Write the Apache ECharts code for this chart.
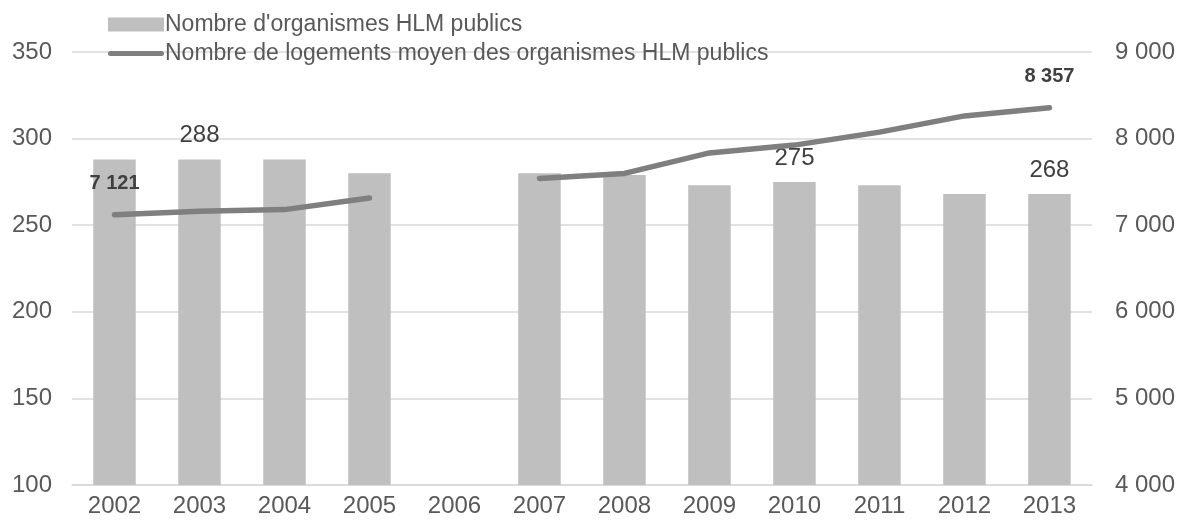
<!DOCTYPE html>
<html><head><meta charset="utf-8">
<script src="https://cdn.jsdelivr.net/npm/echarts@6/dist/echarts.min.js"></script>
<style>html,body{margin:0;padding:0;background:#fff}#c{width:1178px;height:525px}</style>
</head><body><div id="c"></div>
<script>
const categories = ['2002','2003','2004','2005','2006','2007','2008','2009','2010','2011','2012','2013'];
const organismes = [288, 288, 288, 280, null, 280, 279, 273, 275, 273, 268, 268];
const logements = [7121, 7160, 7180, 7315, null, 7540, 7598, 7835, 7925, 8075, 8262, 8357];
const barLabelIdx = [1, 8, 11];
const lineLabelIdx = [0, 11];
const leftTicks = {min: 100, max: 350, interval: 50};
const rightTicks = {min: 4000, max: 9000, interval: 1000};

const fmt = v => String(v).replace(/\B(?=(\d{3})+(?!\d))/g, ' ');
const font = 'Liberation Sans, Arial, sans-serif';

const barData = organismes.map((v, i) => barLabelIdx.includes(i) ? {value: v, label: {show: true}} : v);
const lineData = logements.map((v, i) => lineLabelIdx.includes(i) ? {value: v, label: {show: true}} : v);

const chart = echarts.init(document.getElementById('c'));
chart.setOption({
  animation: false,
  textStyle: {fontFamily: font},
  legend: {
    orient: 'vertical', left: 103, top: 8, itemGap: 6,
    itemWidth: 56, itemHeight: 14,
    textStyle: {fontFamily: font, fontSize: 23, color: '#595959', padding: [0,0,0,-4]},
    data: [
      {name: "Nombre d'organismes HLM publics", icon: 'rect'},
      {name: 'Nombre de logements moyen des organismes HLM publics', icon: 'path://M2.5,0 H53.5 A2.5,2.5 0 0 1 53.5,5 H2.5 A2.5,2.5 0 0 1 2.5,0 Z'}
    ]
  },
  grid: {left: 72, right: 84, top: 52, bottom: 40},
  xAxis: {
    type: 'category', data: categories,
    axisLine: {show: true, lineStyle: {color: '#d9d9d9', width: 1.5}},
    axisTick: {show: false},
    axisLabel: {fontSize: 24, color: '#595959', margin: 9, fontFamily: font}
  },
  yAxis: [
    {type: 'value', min: leftTicks.min, max: leftTicks.max, interval: leftTicks.interval,
     axisLabel: {fontSize: 24, color: '#595959', margin: 20, fontFamily: font},
     axisLine: {show: false}, axisTick: {show: false},
     splitLine: {lineStyle: {color: '#d9d9d9', width: 1.5}}},
    {type: 'value', min: rightTicks.min, max: rightTicks.max, interval: rightTicks.interval,
     axisLabel: {fontSize: 24, color: '#595959', margin: 23, fontFamily: font, formatter: fmt},
     axisLine: {show: false}, axisTick: {show: false},
     splitLine: {show: false}}
  ],
  series: [
    {name: "Nombre d'organismes HLM publics", type: 'bar', data: barData,
     barCategoryGap: '50%', itemStyle: {color: '#bfbfbf'},
     label: {show: false, position: 'top', distance: 12, fontSize: 24, color: '#404040', fontFamily: font}},
    {name: 'Nombre de logements moyen des organismes HLM publics', type: 'line', yAxisIndex: 1,
     data: lineData, symbol: 'circle', symbolSize: 1, showSymbol: true, connectNulls: false,
     lineStyle: {color: '#7f7f7f', width: 5.5, cap: 'round'}, itemStyle: {color: '#7f7f7f'},
     label: {show: false, position: 'top', distance: 21, fontSize: 20, fontWeight: 'bold', color: '#404040', fontFamily: font, formatter: p => fmt(p.value)}}
  ]
});
</script></body></html>
